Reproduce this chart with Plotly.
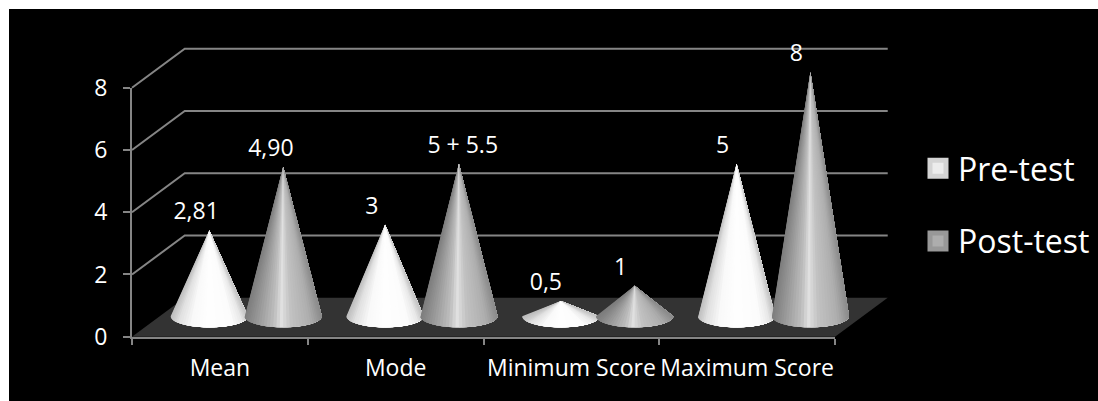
import numpy as np
import plotly.graph_objects as go

categories = ["Mean", "Mode", "Minimum Score", "Maximum Score"]
pre_values = [2.81, 3, 0.5, 5]
post_values = [4.9, 5, 1, 8]
pre_labels = ["2,81", "3", "0,5", "5"]
post_labels = ["4,90", "5 + 5.5", "1", "8"]
y_ticks = [0, 2, 4, 6, 8]
series_names = ["Pre-test", "Post-test"]

W, H = 1098, 401
L, R, T, B = 132, 835, 87.7, 336.7
NCAT = len(categories)
CW = (R - L) / NCAT
UH = (B - T) / 8
DX, DY = 0.30, 1.25          # oblique depth of the 3D box, in axis units
BASE_Y, RY = 0.66, 0.36      # cone base centre height and ellipse half height
RX, OFF = 0.22, 0.21         # cone half width and offset from the category centre
HSCALE = 0.98
NSLICE = 36
GRID = "#858585"
WHITE = "#ffffff"
FS = 23

pre_shade = ([-1, -0.8, -0.45, 0, 0.6, 0.85, 1], [190, 225, 250, 255, 252, 232, 195])
post_shade = ([-1, -0.65, -0.25, -0.05, 0.2, 0.7, 1], [125, 155, 190, 225, 195, 175, 140])


def grey(shade, t):
    g = int(np.interp(t, *shade))
    return f"rgb({g},{g},{g})"


fig = go.Figure()

# invisible trace that keeps the visible axes on the page
fig.add_trace(go.Scatter(x=[0, NCAT], y=[0, 8], mode="none", xaxis="x", yaxis="y",
                         showlegend=False, hoverinfo="skip"))

COMMON = dict(xaxis="x2", yaxis="y2", showlegend=False, hoverinfo="skip")

# floor
fig.add_trace(go.Scatter(
    x=[0, NCAT, NCAT + DX, DX, 0],
    y=[0, 0, DY, DY, 0], mode="lines", fill="toself", fillcolor="#333333",
    line=dict(width=0), **COMMON))

# side and back wall gridlines
gx, gy = [], []
for v in y_ticks[1:]:
    gx += [0, DX, NCAT + DX, None]
    gy += [v, v + DY, v + DY, None]
fig.add_trace(go.Scatter(x=gx, y=gy, mode="lines", line=dict(color=GRID, width=2), **COMMON))


# cones: one trace per shading step; each step repaints the cone from its angle to the
# right edge, so later steps cover the seams of the earlier ones
def add_cones(values, side, shade):
    thetas = np.linspace(np.pi, 0, NSLICE + 1)
    arc = np.linspace(0, 1, 25)
    for k in range(NSLICE):
        a, b = thetas[k], thetas[k + 1]
        t = np.cos((a + b) / 2)
        angs = a * (1 - arc)
        xs, ys = [], []
        for i, v in enumerate(values):
            cx = i + 0.5 + side * OFF + DX / 2
            xs += [cx] + list(cx + RX * np.cos(angs)) + [cx, None]
            ys += [BASE_Y + v * HSCALE] + list(BASE_Y - RY * np.sin(angs)) + [BASE_Y + v * HSCALE, None]
        fig.add_trace(go.Scatter(x=xs, y=ys, mode="lines", fill="toself",
                                 fillcolor=grey(shade, t), line=dict(width=0), **COMMON))


add_cones(pre_values, -1, pre_shade)
add_cones(post_values, 1, post_shade)

# value labels
label_dx_pre = [-0.075, -0.075, -0.085, -0.08]
label_dx_post = [-0.07, 0.022, -0.08, -0.08]
for values, labels, side, ldx in [(pre_values, pre_labels, -1, label_dx_pre),
                                  (post_values, post_labels, 1, label_dx_post)]:
    fig.add_trace(go.Scatter(
        x=[i + 0.5 + side * OFF + DX / 2 + ldx[i] for i in range(len(values))],
        y=[BASE_Y + v * HSCALE + 0.54 for v in values],
        text=labels, mode="text", textposition="middle center",
        textfont=dict(color=WHITE, size=FS, family="Open Sans"), **COMMON))

# legend entries
for name, fill, edge, grp in [(series_names[0], "#ececec", "#d4d4d4", "a"),
                              (series_names[1], "#adadad", "#989898", "b")]:
    fig.add_trace(go.Scatter(x=[None], y=[None], mode="markers", name=name, legendgroup=grp,
                             xaxis="x2", yaxis="y2", hoverinfo="skip",
                             marker=dict(symbol="square", size=16, color=fill,
                                         line=dict(color=edge, width=5))))

fig.update_layout(
    width=W, height=H, paper_bgcolor="#000000", plot_bgcolor="rgba(0,0,0,0)",
    margin=dict(l=0, r=0, t=0, b=0, autoexpand=False),
    font=dict(family="Open Sans", color=WHITE, size=FS),
    shapes=[dict(type="rect", xref="paper", yref="paper", layer="below",
                 x0=0, x1=1, y0=1 - 9 / H, y1=1, fillcolor=WHITE, line_width=0),
            dict(type="rect", xref="paper", yref="paper", layer="below",
                 x0=0, x1=9 / W, y0=0, y1=1, fillcolor=WHITE, line_width=0)],
    xaxis=dict(domain=[L / W, R / W], range=[0, NCAT], showgrid=False, zeroline=False,
               showline=True, linecolor=GRID, linewidth=2, anchor="y",
               tickvals=[i + 0.5 for i in range(NCAT)],
               ticktext=categories, ticks="", tickangle=0, ticklabelstandoff=10,
               tickfont=dict(size=FS, color=WHITE, family="Open Sans"),
               minor=dict(tickmode="array", tickvals=list(range(NCAT + 1)),
                          ticks="outside", ticklen=6, tickwidth=2, tickcolor=GRID)),
    yaxis=dict(domain=[(H - B) / H, (H - T) / H], range=[0, 8], showgrid=False, zeroline=False,
               showline=True, linecolor=GRID, anchor="x",
               linewidth=2, tickvals=y_ticks, ticks="outside", ticklen=7, tickwidth=2,
               tickcolor=GRID, ticklabelstandoff=11,
               tickfont=dict(size=FS, color=WHITE, family="Open Sans")),
    xaxis2=dict(domain=[0, 1], range=[-L / CW, (W - L) / CW], visible=False, anchor="y2"),
    yaxis2=dict(domain=[0, 1], range=[-(H - B) / UH, B / UH], visible=False, anchor="x2"),
    legend=dict(x=918 / W, xanchor="left", y=1 - 141 / H, yanchor="top",
                bgcolor="rgba(0,0,0,0)", font=dict(size=32, color=WHITE, family="Open Sans"),
                tracegroupgap=28, itemclick=False, itemdoubleclick=False),
    hovermode=False,
)
fig.write_html("out.html", config={"displayModeBar": False},
               post_script="document.body.style.margin='0';document.body.style.overflow='hidden';")
